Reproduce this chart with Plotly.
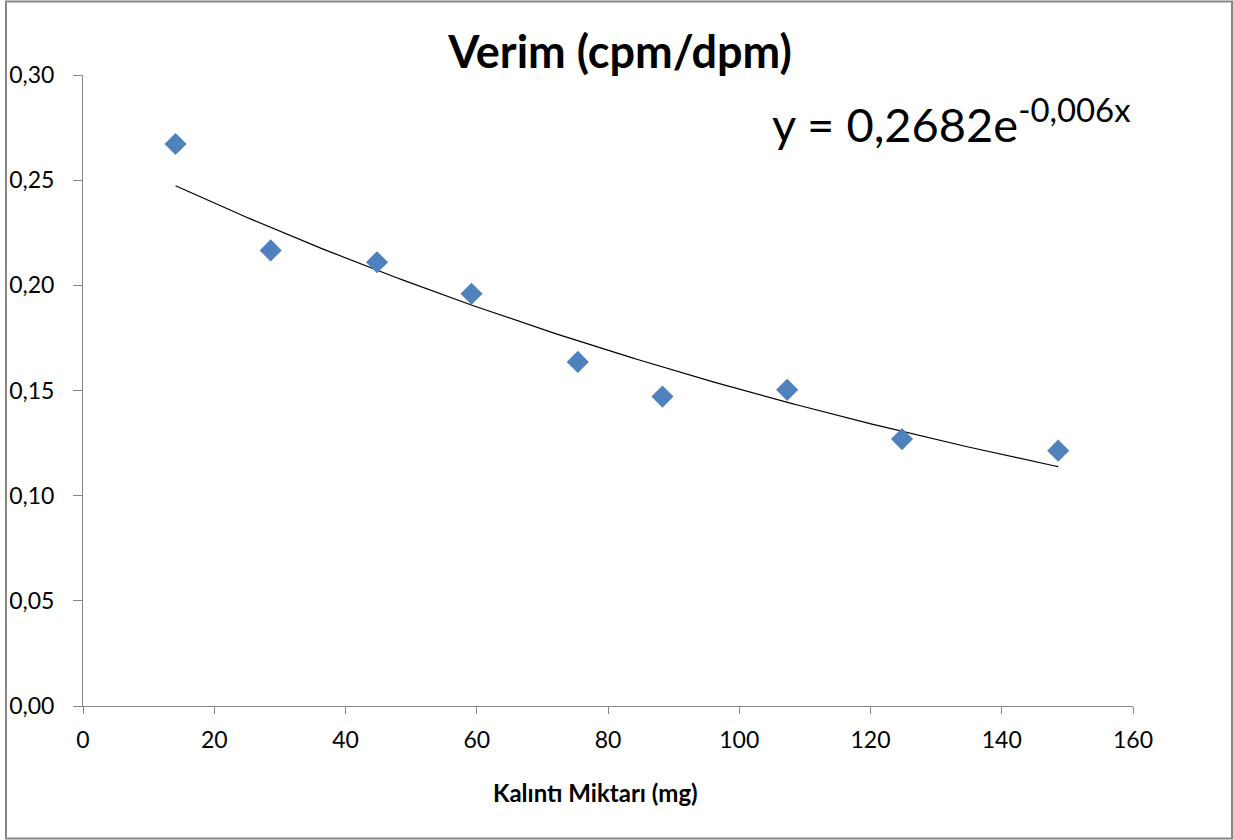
import numpy as np
import plotly.graph_objects as go

# Data
kalinti_mg = [14.1, 28.6, 44.8, 59.2, 75.4, 88.3, 107.3, 124.8, 148.6]
verim = [0.2672, 0.2166, 0.2110, 0.1960, 0.1636, 0.1471, 0.1503, 0.1269, 0.1214]

title_text = "Verim (cpm/dpm)"
x_title = "Kalıntı Miktarı (mg)"
equation_text = "y = 0,2682e<sup>-0,006x</sup>"

x_ticks = [0, 20, 40, 60, 80, 100, 120, 140, 160]
y_ticks = [0.00, 0.05, 0.10, 0.15, 0.20, 0.25, 0.30]

# Exponential trendline (least squares on log y, as Excel does)
xa = np.array(kalinti_mg)
b, ln_a = np.polyfit(xa, np.log(np.array(verim)), 1)
a = np.exp(ln_a)
x_fit = np.linspace(xa.min(), xa.max(), 200)
y_fit = a * np.exp(b * x_fit)

W, H = 1233, 840
ML, MR, MT, MB = 83, 100, 75, 134
PW, PH = W - ML - MR, H - MT - MB

def px_x(p):
    return (p - ML) / PW

def px_y(p):
    return (H - MB - p) / PH

FONT = "Lato, Carlito, Calibri, sans-serif"
AXIS_COLOR = "#868686"

fig = go.Figure()
fig.add_trace(go.Scatter(
    x=x_fit, y=y_fit, mode="lines",
    line=dict(color="black", width=1.2),
    hoverinfo="skip", showlegend=False,
))
fig.add_trace(go.Scatter(
    x=kalinti_mg, y=verim, mode="markers",
    marker=dict(symbol="diamond", size=17, color="#4F81BD"),
    showlegend=False,
))

fig.update_layout(
    width=W, height=H,
    margin=dict(l=ML, r=MR, t=MT, b=MB, autoexpand=False),
    paper_bgcolor="white", plot_bgcolor="white",
    separators=",.",
    font=dict(family=FONT, color="black"),
    title=dict(
        text="<b>" + title_text + "</b>",
        font=dict(size=45, family=FONT, color="black"),
        xref="container", yref="container",
        x=620 / W, y=1 - 52 / H, xanchor="center", yanchor="middle",
        automargin=False,
    ),
    xaxis=dict(
        range=[0, 160], tickvals=x_ticks,
        showgrid=False, zeroline=False, automargin=False,
        showline=True, linecolor=AXIS_COLOR, linewidth=1,
        ticks="outside", ticklen=7, tickcolor=AXIS_COLOR, tickwidth=1,
        tickfont=dict(size=23, family=FONT, color="black"),
        ticklabelstandoff=6,
    ),
    yaxis=dict(
        range=[0, 0.30], tickvals=y_ticks, tickformat=".2f",
        showgrid=False, zeroline=False, automargin=False,
        showline=True, linecolor=AXIS_COLOR, linewidth=1,
        ticks="outside", ticklen=9, tickcolor=AXIS_COLOR, tickwidth=1,
        tickfont=dict(size=23, family=FONT, color="black"),
        ticklabelstandoff=14,
    ),
    annotations=[
        dict(
            text="<b>" + x_title + "</b>",
            xref="paper", yref="paper",
            x=px_x(595), y=px_y(792), xanchor="center", yanchor="middle",
            showarrow=False, font=dict(size=24, family=FONT, color="black"),
        ),
        dict(
            text=equation_text,
            xref="paper", yref="paper",
            x=1.0, y=px_y(121), xanchor="right", yanchor="middle",
            showarrow=False, font=dict(size=47, family=FONT, color="black"),
        ),
    ],
    shapes=[
        dict(
            type="rect", xref="paper", yref="paper",
            x0=px_x(6), x1=px_x(1232), y0=px_y(838.5), y1=px_y(1.5),
            line=dict(color=AXIS_COLOR, width=2), layer="below",
        )
    ],
)

fig.write_html("out.html")
